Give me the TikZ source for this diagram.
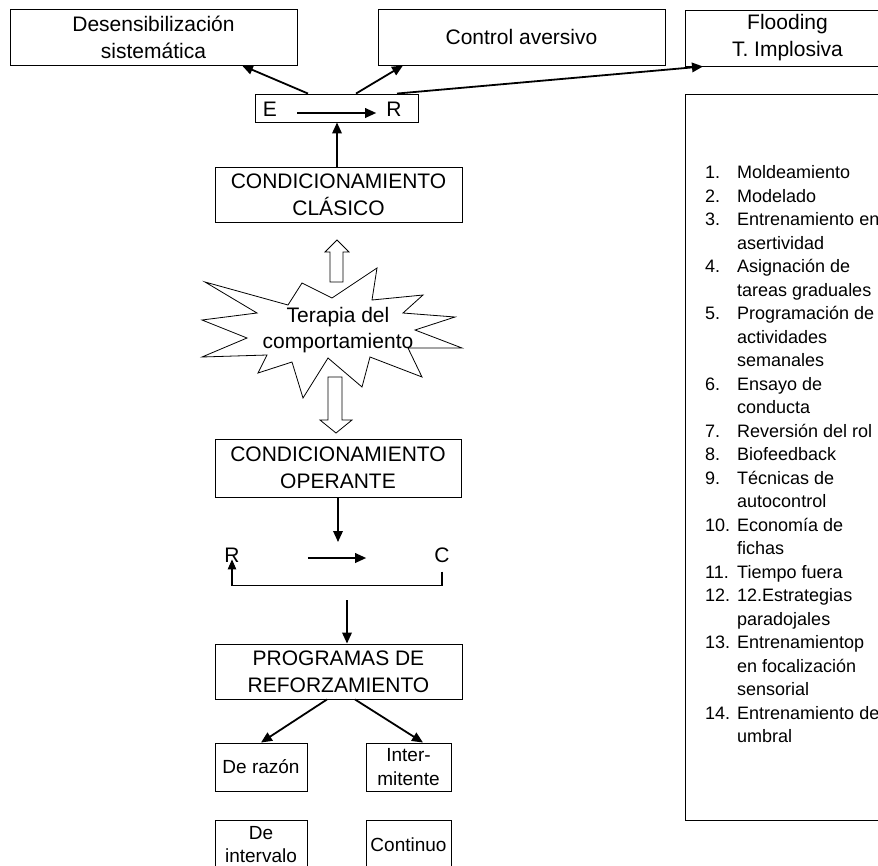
\documentclass[tikz,border=0pt]{standalone}
\usepackage{fontspec}
\setmainfont{Liberation Sans}
\usetikzlibrary{arrows.meta}

\newcommand{\bigtxt}{\fontsize{21}{27}\selectfont}
\newcommand{\smalltxt}{\fontsize{18}{23.5}\selectfont}
\newcommand{\boxtxt}{\fontsize{19}{23.5}\selectfont}

\begin{document}
\begin{tikzpicture}[x=1pt, y=-1pt,
  box/.style={draw, line width=0.9pt, inner sep=0pt, align=center, font=\bigtxt},
  sbox/.style={draw, line width=0.9pt, inner sep=0pt, align=center, font=\boxtxt},
  lbl/.style={inner sep=0pt, font=\bigtxt},
  arr/.style={-{Triangle[length=11pt,width=9.5pt]}, line width=1.8pt},
  hollow/.style={draw, line width=0.8pt, fill=white}]
\useasboundingbox (0,0) rectangle (878,865);
% top row of techniques
\node[box, minimum width=287pt, minimum height=56pt] (des) at (153.5,37) {Desensibilización\\sistemática};
\node[box, minimum width=287pt, minimum height=56pt] (ctrl) at (521.5,37) {Control aversivo};
\node[box, minimum width=205pt, minimum height=56pt] (flood) at (787.5,38) {Flooding\\T. Implosiva};
% E -> R box
\node[draw, line width=0.9pt, minimum width=163pt, minimum height=28pt] (er) at (336.5,108) {};
\node[lbl] (e) at (270,109) {E};
\node[lbl] (r) at (394,109) {R};
\draw[arr] ([xshift=20pt,yshift=-4pt]e.east) -- ([xshift=-10pt,yshift=-4pt]r.west);
\draw[arr] ([xshift=-28.5pt]er.north) -- ([xshift=88.5pt]des.south);
\draw[arr] ([xshift=19.5pt]er.north) -- ([xshift=-118.5pt]ctrl.south);
\draw[arr] ([xshift=60.5pt]er.north) -- ([xshift=-84.5pt]flood.south);
% classical conditioning
\node[box, minimum width=247pt, minimum height=55pt] (cla) at (338.5,194.5) {CONDICIONAMIENTO\\CLÁSICO};
\draw[arr] ([xshift=-1.5pt]cla.north) -- ([xshift=0.5pt]er.south);
% starburst
\draw[line width=0.8pt] (205,282) -- (288,305) -- (302,283) -- (332,298) -- (377,268)
  -- (372,300) -- (423,295) -- (403,313) -- (455,317) -- (415,330) -- (462,348)
  -- (408,348) -- (422,377) -- (370,357) -- (362,387) -- (328,358) -- (303,398)
  -- (292,362) -- (258,373) -- (267,355) -- (202,357) -- (247,338) -- (202,320)
  -- (257,313) -- cycle;
\node[inner sep=0pt, align=center, font=\fontsize{21}{26}\selectfont] (ter) at (338,330) {Terapia del\\comportamiento};
% hollow arrows
\draw[hollow] (330,282) -- (330,252) -- (325,252) -- (337,240) -- (349,252) -- (343,252) -- (343,282) -- cycle;
\draw[hollow] (328,377) -- (328,420) -- (320,420) -- (336,433) -- (352,420) -- (342,420) -- (342,377) -- cycle;
% operant conditioning
\node[box, minimum width=246pt, minimum height=58pt] (op) at (338,468) {CONDICIONAMIENTO\\OPERANTE};
\coordinate (rc) at (338,542);
\draw[arr] (op.south) -- (rc);
\node[lbl] (r2) at (232,555) {R};
\node[lbl] (c2) at (442,555) {C};
\draw[arr] ([xshift=68pt,yshift=-3pt]r2.east) -- ([xshift=-68pt,yshift=-3pt]c2.west);
\draw[line width=1.1pt, -{Triangle[length=10pt,width=8.5pt]}] ([yshift=-9pt]c2.south) -- ++(0,14) -| ([yshift=3pt]r2.south);
% reinforcement programs
\node[box, minimum width=247pt, minimum height=55pt] (prog) at (338.5,671.5) {PROGRAMAS DE\\REFORZAMIENTO};
\coordinate (fb) at (347,600);
\draw[arr] (fb) -- (fb |- prog.north);
\node[sbox, minimum width=92pt, minimum height=48pt] (raz) at (261,767) {De razón};
\node[sbox, minimum width=85pt, minimum height=48pt] (inter) at (408.5,767) {Inter-\\mitente};
\node[sbox, minimum width=92pt, minimum height=49pt] (intv) at (261,844.5) {De\\intervalo};
\node[sbox, minimum width=85pt, minimum height=49pt] (cont) at (408.5,844.5) {Continuo};
\draw[arr] ([xshift=-11.5pt]prog.south) -- (raz.north);
\draw[arr] ([xshift=16.5pt]prog.south) -- ([xshift=14.5pt]inter.north);
% list of techniques
\draw[line width=0.9pt] (890,94) -- (685,94) -- (685,820) -- (890,820);
\node[anchor=north west, inner sep=0pt, font=\smalltxt] (tec) at (705,162) {%
\begin{tabular}{@{}p{32pt}@{}l@{}}
1. & Moldeamiento\\
2. & Modelado\\
3. & Entrenamiento en\\
   & asertividad\\
4. & Asignación de\\
   & tareas graduales\\
5. & Programación de\\
   & actividades\\
   & semanales\\
6. & Ensayo de\\
   & conducta\\
7. & Reversión del rol\\
8. & Biofeedback\\
9. & Técnicas de\\
   & autocontrol\\
10. & Economía de\\
   & fichas\\
11. & Tiempo fuera\\
12. & 12.Estrategias\\
   & paradojales\\
13. & Entrenamientop\\
   & en focalización\\
   & sensorial\\
14. & Entrenamiento de\\
   & umbral
\end{tabular}};
\end{tikzpicture}
\end{document}
